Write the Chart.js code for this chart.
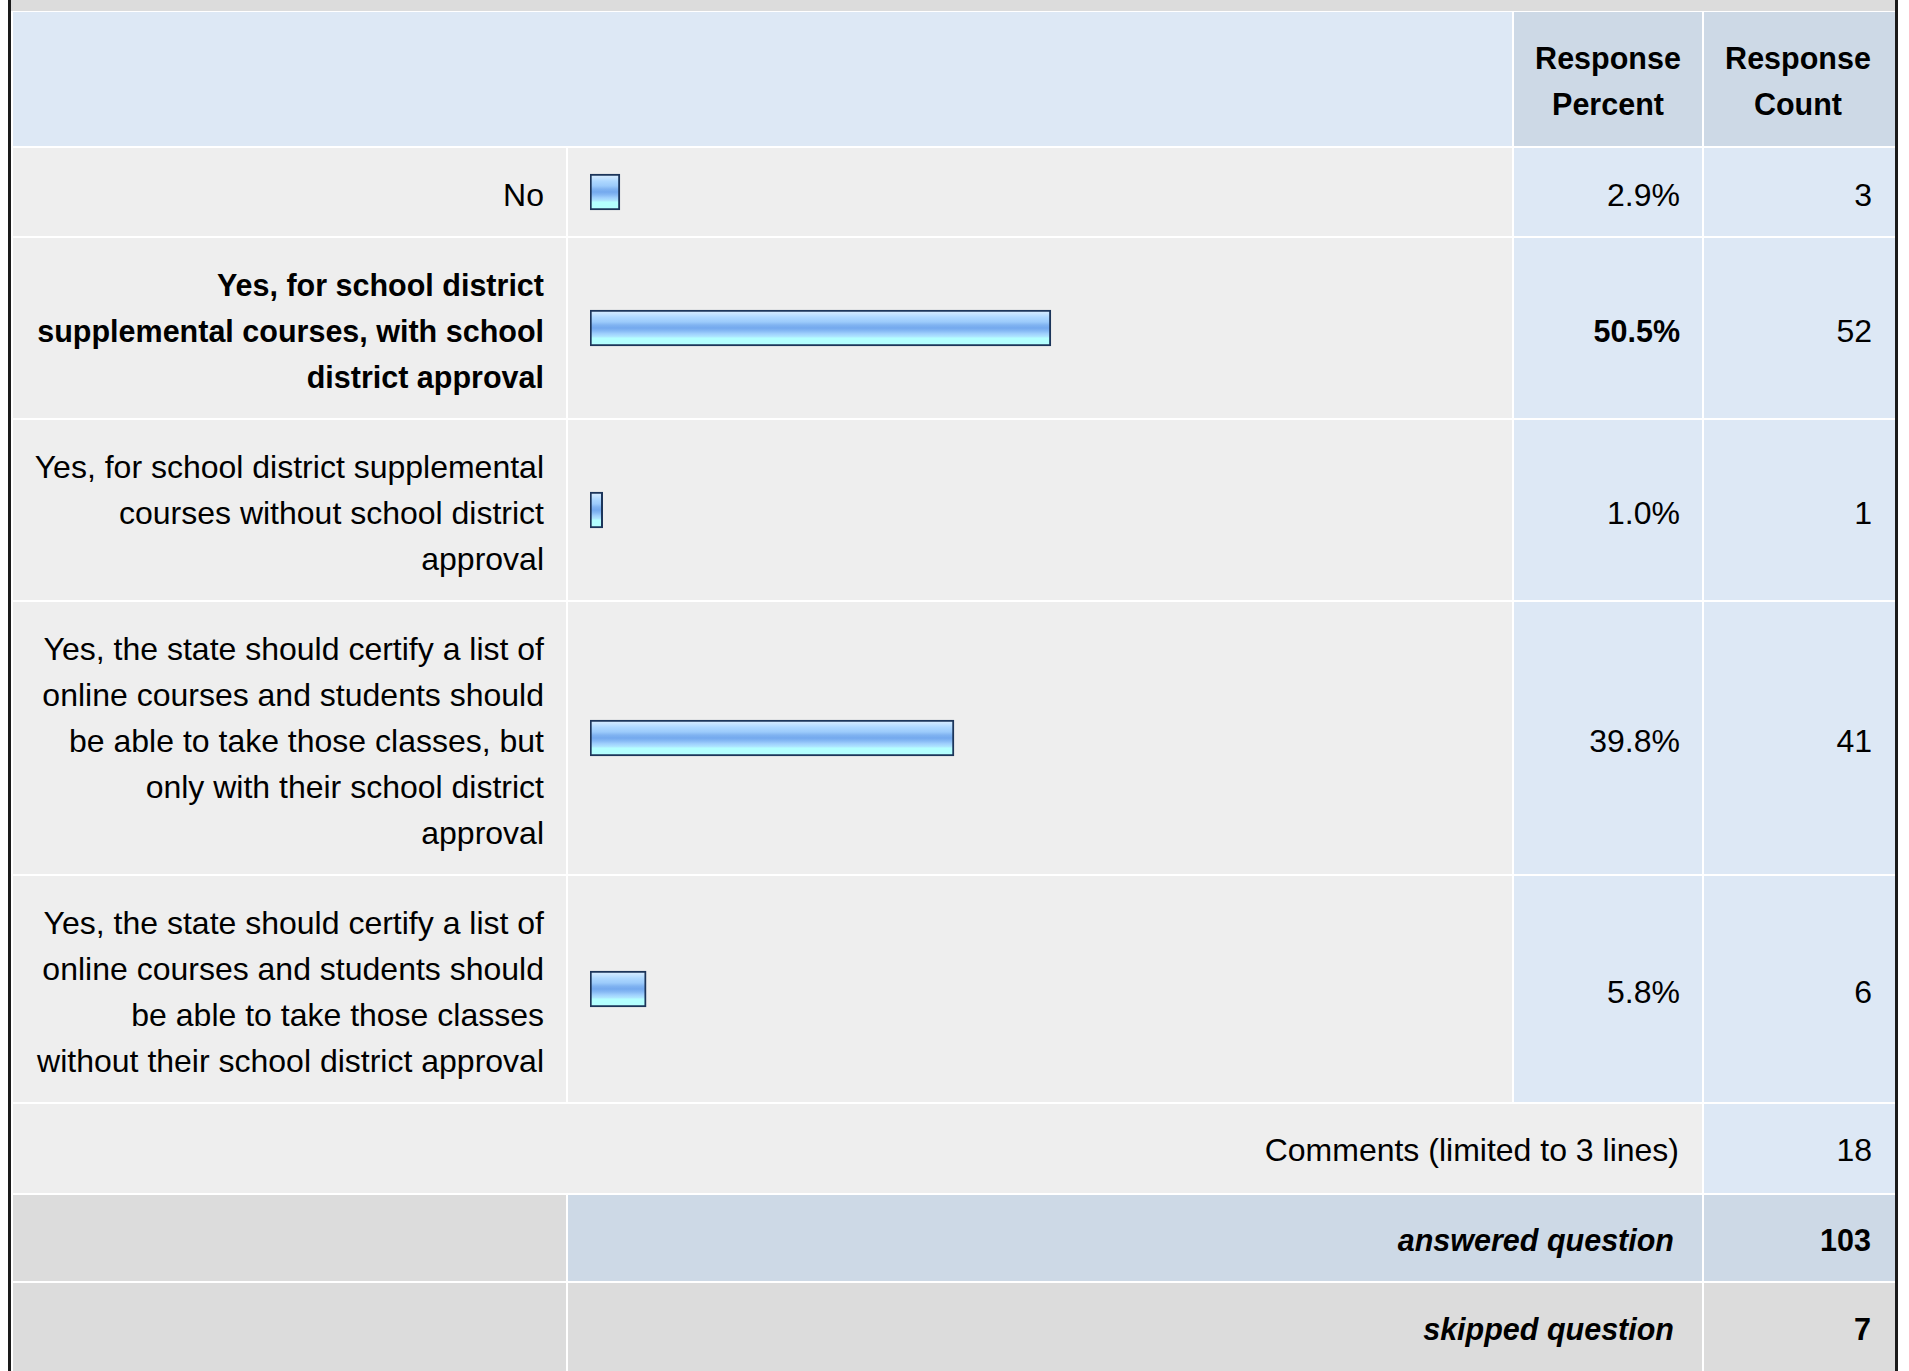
<!DOCTYPE html>
<html>
<head>
<meta charset="utf-8">
<script src="https://cdn.jsdelivr.net/npm/chart.js@4.4.1/dist/chart.umd.min.js"></script>
<style>
html,body{margin:0;padding:0;background:#fff;width:1909px;height:1371px;overflow:hidden;}
body{font-family:"Liberation Sans",Arial,Helvetica,sans-serif;color:#000;position:relative;}
#lb{position:absolute;left:8px;top:0;width:3px;height:1371px;background:#1a1a1a;}
#rb{position:absolute;left:1895px;top:0;width:3px;height:1371px;background:#1a1a1a;}
#strip{position:absolute;left:11px;top:0;width:1884px;height:11px;background:#dcdcdc;}
#grid{position:absolute;left:13px;top:12px;width:1882px;display:grid;
  grid-template-columns:553px 944px 188px 191px;
  grid-template-rows:134px 88px 180px 180px 272px 226px 89px 86px 88px;
  gap:2px;background:#fff;}
.c{display:flex;flex-direction:column;justify-content:center;align-items:flex-end;box-sizing:border-box;
  font-size:32px;line-height:46px;text-align:right;white-space:nowrap;position:relative;overflow:hidden;padding-top:3px;}
.c div{display:block;}
.dr{padding-top:5px;}
.hd{align-items:center;text-align:center;font-weight:bold;font-size:30.5px;padding-top:3px;}
.bold{font-weight:bold;font-size:30.5px;}
.bi{font-weight:bold;font-style:italic;font-size:30.5px;}
.lab{padding-right:22px;background:#eeeeee;}
.barcell{background:#eeeeee;padding:0;}
.pct{padding-right:22px;background:#dde8f5;}
.cnt{padding-right:23px;background:#dde8f5;}
canvas{position:absolute;left:0;top:0;}
</style>
</head>
<body>
<div id="lb"></div>
<div id="rb"></div>
<div id="strip"></div>
<div id="grid"></div>
<script>
// ---- data ----
const headerLabels = [["Response", "Percent"], ["Response", "Count"]];
const categories = [
  ["No"],
  ["Yes, for school district", "supplemental courses, with school", "district approval"],
  ["Yes, for school district supplemental", "courses without school district", "approval"],
  ["Yes, the state should certify a list of", "online courses and students should", "be able to take those classes, but", "only with their school district", "approval"],
  ["Yes, the state should certify a list of", "online courses and students should", "be able to take those classes", "without their school district approval"]
];
const responsePercent = [2.9, 50.5, 1.0, 39.8, 5.8];
const responseCount = [3, 52, 1, 41, 6];
const commentsLabel = "Comments (limited to 3 lines)";
const commentsCount = 18;
const answeredLabel = "answered question";
const answeredCount = 103;
const skippedLabel = "skipped question";
const skippedCount = 7;

// ---- layout (not data) ----
const rowHeights = [88, 180, 180, 272, 226];
const barColWidth = 944;

const grid = document.getElementById('grid');
function cell(cls, lines, style) {
  const d = document.createElement('div');
  d.className = 'c ' + cls;
  if (style) Object.assign(d.style, style);
  (lines || []).forEach(t => { const s = document.createElement('div'); s.textContent = t; d.appendChild(s); });
  grid.appendChild(d);
  return d;
}

// header
cell('', [], {gridColumn: '1 / 3', background: '#dde8f5'});
cell('hd', headerLabels[0], {background: '#cdd9e6'});
cell('hd', headerLabels[1], {background: '#cdd9e6', paddingRight: '3px'});

const maxPct = Math.max(...responsePercent);

function barGradient(ctx) {
  const chart = ctx.chart;
  const ca = chart.chartArea;
  if (!ca) return '#9ccbfb';
  const cy = (ca.top + ca.bottom) / 2;
  const g = chart.ctx.createLinearGradient(0, cy - 18, 0, cy + 18);
  g.addColorStop(0, '#dbeeff');
  g.addColorStop(0.1, '#c8e5ff');
  g.addColorStop(0.2, '#aed8ff');
  g.addColorStop(0.33, '#9ccbfb');
  g.addColorStop(0.42, '#80b3f1');
  g.addColorStop(0.5, '#74a9ee');
  g.addColorStop(0.58, '#86b9f4');
  g.addColorStop(0.66, '#9fd0fd');
  g.addColorStop(0.74, '#aee6ff');
  g.addColorStop(0.78, '#b4ffff');
  g.addColorStop(1, '#b4ffff');
  return g;
}

categories.forEach((lines, i) => {
  const isMax = responsePercent[i] === maxPct;
  cell('dr lab' + (isMax ? ' bold' : ''), lines);
  const bc = cell('barcell', []);
  const cv = document.createElement('canvas');
  cv.width = barColWidth; cv.height = rowHeights[i];
  cv.style.width = barColWidth + 'px'; cv.style.height = rowHeights[i] + 'px';
  bc.appendChild(cv);
  new Chart(cv, {
    type: 'bar',
    data: {
      labels: [lines.join(' ')],
      datasets: [{
        data: [responsePercent[i]],
        backgroundColor: barGradient,
        borderColor: '#1c355a',
        borderWidth: 2,
        borderSkipped: false,
        barThickness: 36,
        base: -0.4
      }]
    },
    options: {
      indexAxis: 'y',
      responsive: false,
      animation: false,
      events: [],
      layout: {padding: {left: 22, right: 13, top: 0, bottom: 0}},
      plugins: {legend: {display: false}, tooltip: {enabled: false}},
      scales: {
        x: {display: false, min: -0.4, max: 100},
        y: {display: false}
      }
    }
  });
  cell('dr pct' + (isMax ? ' bold' : ''), [responsePercent[i].toFixed(1) + '%']);
  cell('dr cnt', [String(responseCount[i])]);
});

// comments row
cell('lab', [commentsLabel], {gridColumn: '1 / 4', paddingRight: '23px'});
cell('cnt', [String(commentsCount)]);
// answered row
cell('', [], {background: '#dcdcdc'});
cell('bi', [answeredLabel], {gridColumn: '2 / 4', background: '#cdd9e6', paddingRight: '28px'});
cell('cnt bold', [String(answeredCount)], {background: '#cdd9e6', paddingRight: '24px'});
// skipped row
cell('', [], {background: '#dcdcdc'});
cell('bi', [skippedLabel], {gridColumn: '2 / 4', background: '#dcdcdc', paddingRight: '28px'});
cell('cnt bold', [String(skippedCount)], {background: '#dcdcdc', paddingRight: '24px'});
</script>
</body>
</html>
